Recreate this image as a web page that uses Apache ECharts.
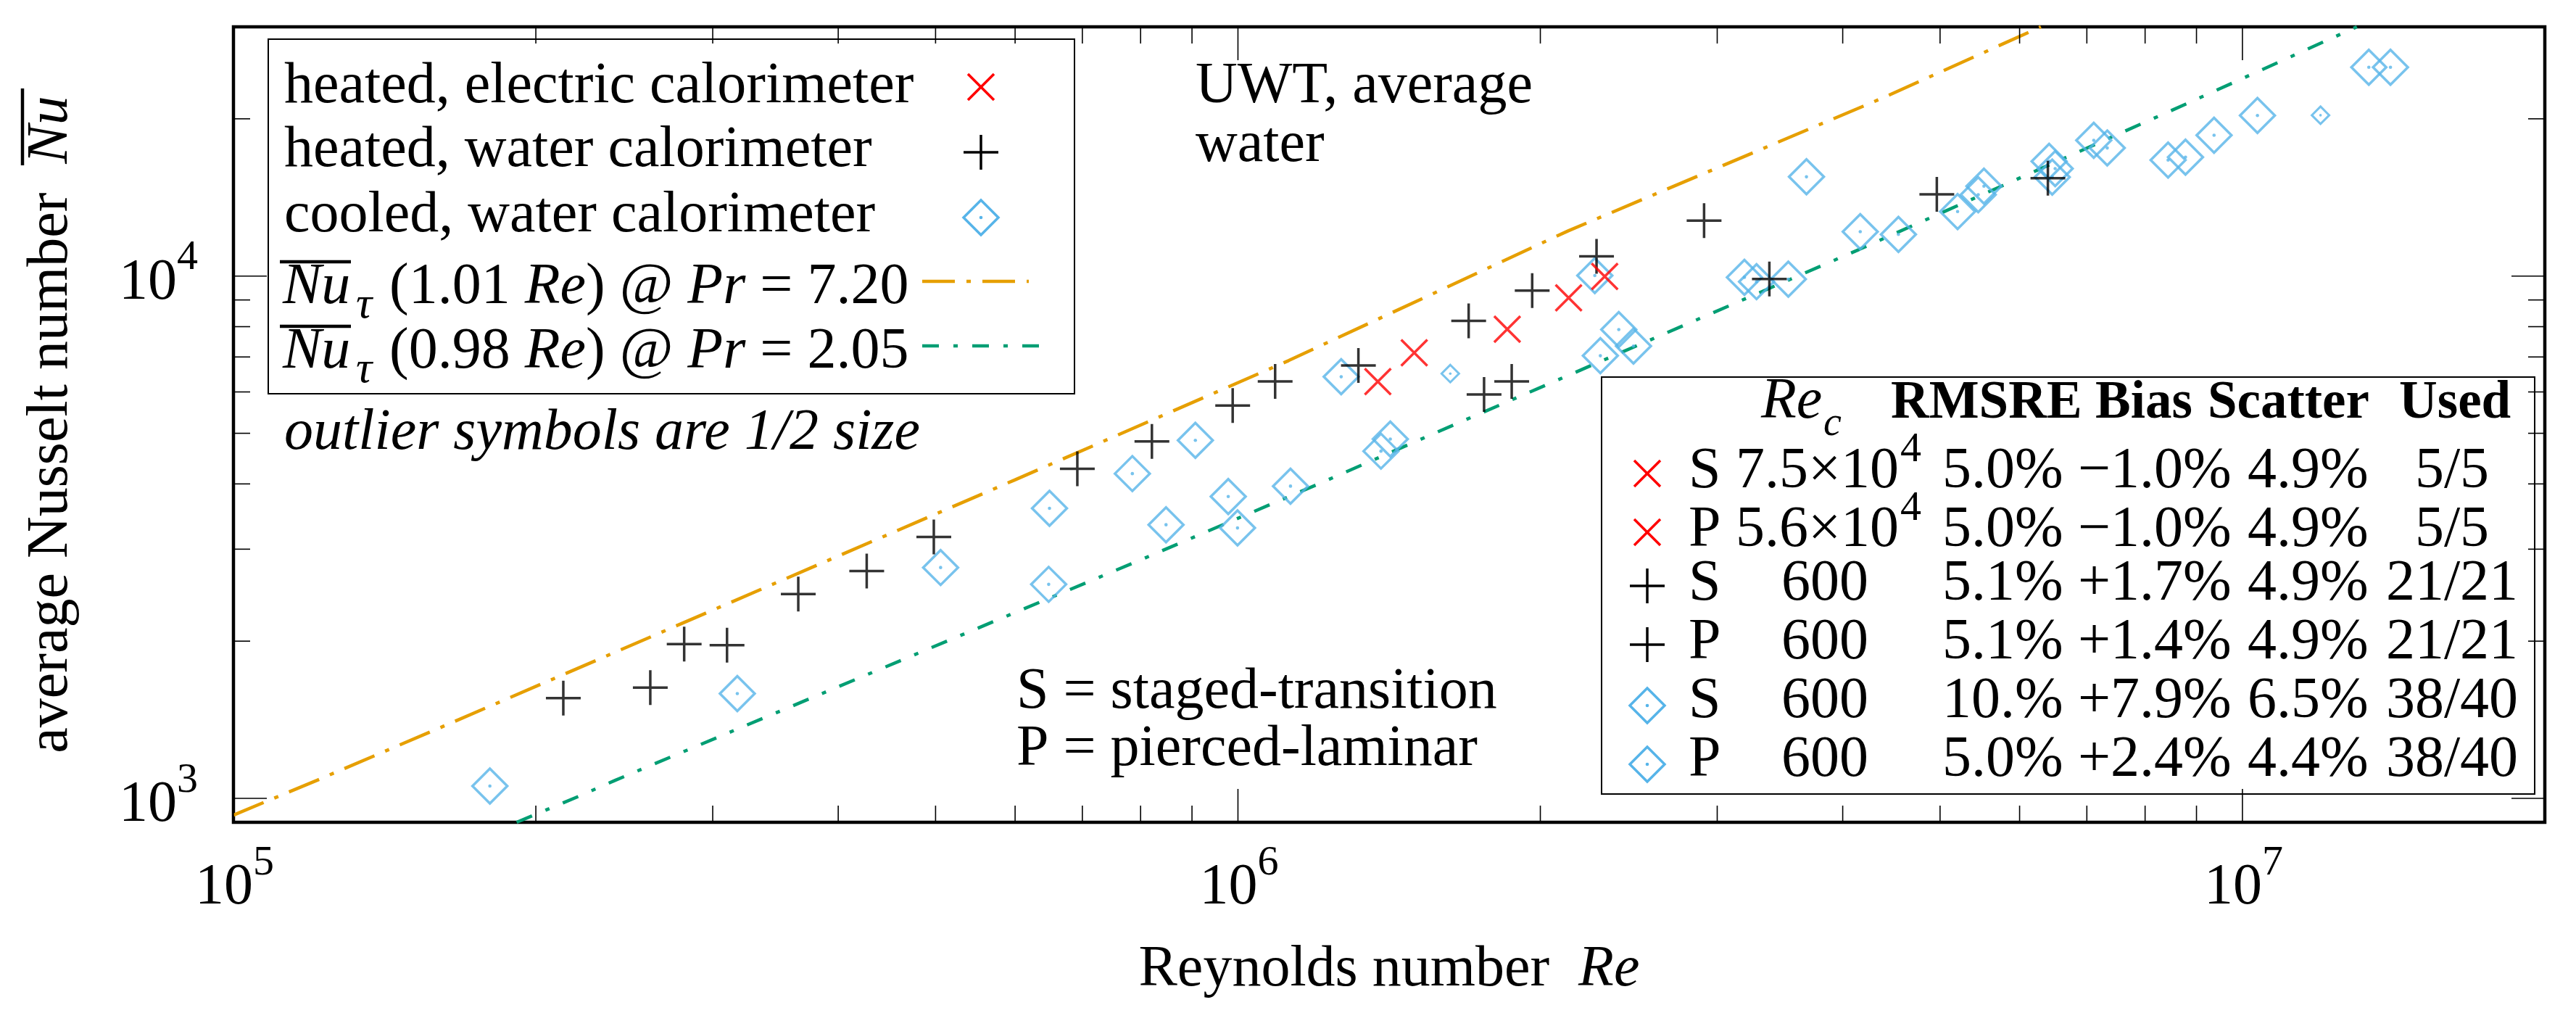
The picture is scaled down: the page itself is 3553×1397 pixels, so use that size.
<!DOCTYPE html>
<html><head><meta charset="utf-8">
<script src="https://cdn.jsdelivr.net/npm/echarts@6/dist/echarts.min.js"></script>
<style>html,body{margin:0;padding:0;background:#fff}#c{width:3553px;height:1397px}</style>
</head><body><div id="c"></div>
<script>
// ---------------- data ----------------
const heatedElectric = [[1.378e6,6280],[1.498e6,7129],[1.854e6,7910],[2.134e6,9087],[2.318e6,9984]];
const heatedWater = [[2.13e5,1556],[2.60e5,1630],[2.81e5,1975],[3.10e5,1965],[3.65e5,2461],[4.27e5,2724],[4.98e5,3166],
  [6.92e5,4277],[8.21e5,4824],[9.88e5,5651],[1.089e6,6287],[1.318e6,6745],[1.697e6,8204],[1.758e6,5934],[1.873e6,6283],
  [1.963e6,9382],[2.275e6,10910],[2.911e6,12766],[3.381e6,9873],[4.963e6,14333],[6.402e6,15388]];
const cooledWater = [[1.80e5,1056],[3.174e5,1587],[5.058e5,2767],[6.492e5,3592],[6.48e5,2569],[7.85e5,4186],[9.07e5,4848],
  [8.48e5,3341],[9.78e5,3784],[9.99e5,3294],[1.128e6,3961],[1.388e6,4622],[1.418e6,4874],[1.267e6,6415],[2.266e6,10022],
  [2.394e6,7897],[2.295e6,7038],[2.476e6,7344],[3.193e6,9945],[3.283e6,9757],[3.531e6,9863],[3.681e6,15488],[4.164e6,12160],
  [4.545e6,12013],[5.205e6,13286],[5.457e6,14316],[5.529e6,14859],[6.42e6,16582],[6.51e6,16058],[6.466e6,15472],
  [7.112e6,18190],[7.335e6,17585],[8.433e6,16672],[8.776e6,16886],[9.37e6,18600],[1.035e7,20300],[1.336e7,25100],[1.404e7,25100]];
const cooledOutliers = [[1.627e6,6505],[1.196e7,20320]];
const nuPr720 = [[1e5,929],[1.211e5,1083],[1.602e5,1363],[5.99e5,4068],[1.123e6,6888],[2.132e6,12205],[4.387e6,21940],[6.3e6,30000]];
const nuPr205 = [[1.914e5,900],[2.214e5,1012],[2.399e5,1083],[7.97e5,2853],[1.204e6,4003],[1.567e6,4995],[2.638e6,7704],
  [4.153e6,11242],[8.815e6,21410],[1.3e7,30000]];

const xMajorTicks = [1e5,1e6,1e7];
const xTickLabels = ['5','6','7'];          // exponents of 10
const xMinorTicks = [2e5,3e5,4e5,5e5,6e5,7e5,8e5,9e5,2e6,3e6,4e6,5e6,6e6,7e6,8e6,9e6];
const yMajorTicks = [1e3,1e4];
const yTickLabels = ['3','4'];
const yMinorTicks = [2e3,3e3,4e3,5e3,6e3,7e3,8e3,9e3,2e4];

const tableSym = ['x','x','+','+','d','d'];
const tableMode = ['S','P','S','P','S','P'];
const tableRec = ['7.5×10','5.6×10','600','600','600','600'];
const tableRecExp = ['4','4','','','',''];
const tableRMSRE = ['5.0%','5.0%','5.1%','5.1%','10.%','5.0%'];
const tableBias = ['−1.0%','−1.0%','+1.7%','+1.4%','+7.9%','+2.4%'];
const tableScatter = ['4.9%','4.9%','4.9%','4.9%','6.5%','4.4%'];
const tableUsed = ['5/5','5/5','21/21','21/21','38/40','38/40'];

// ---------------- styling ----------------
const FONT = '"Liberation Serif","Times New Roman",serif';
const RED = '#FF0000', BLUE = '#56B4E9', ORANGE = '#E69F00', GREEN = '#009E73';
const DASH_OR = [45,16,6,16], DASH_GR = [23,20,6,20];
const PLUS = 'path://M1,0L1,2M0,1L2,1';
const CROSS = 'path://M0,0L2,2M0,2L2,0';

function txt(x, base, text, o) {
  o = o || {};
  const fs = o.fs || 80;
  const st = {text: text, x: 0, y: 0, fontFamily: FONT, fontSize: fs, fontStyle: o.italic ? 'italic' : 'normal',
    fontWeight: o.bold ? 'bold' : 'normal', fill: '#000', align: o.align || 'left', verticalAlign: 'middle'};
  if (o.rich) st.rich = o.rich;
  return {type: 'text', x: x, y: base - 0.3375 * fs, z: 20, silent: true, style: st};
}
const richI = {i: {fontFamily: FONT, fontSize: 80, fontStyle: 'italic'}};
function line(x1, y1, x2, y2, color, lw, dash) {
  const s = {stroke: color, lineWidth: lw};
  if (dash) s.lineDash = dash;
  return {type: 'line', z: 20, silent: true, shape: {x1, y1, x2, y2}, style: s};
}
function symX(cx, cy) { const h = 18; return [line(cx-h,cy-h,cx+h,cy+h,RED,3.5), line(cx-h,cy+h,cx+h,cy-h,RED,3.5)]; }
function symPlus(cx, cy) { const h = 24; return [line(cx-h,cy,cx+h,cy,'#000',3.5), line(cx,cy-h,cx,cy+h,'#000',3.5)]; }
function symDiamond(cx, cy) {
  const h = 24;
  return [{type: 'polygon', z: 20, silent: true, shape: {points: [[cx,cy-h],[cx+h,cy],[cx,cy+h],[cx-h,cy]]},
           style: {fill: 'none', stroke: BLUE, lineWidth: 3.5}},
          {type: 'circle', z: 20, silent: true, shape: {cx, cy, r: 2.3}, style: {fill: BLUE}}];
}

const graphics = [];
// legend box
graphics.push({type: 'rect', z: 1, silent: true, shape: {x: 370, y: 54, width: 1112, height: 489},
  style: {fill: '#fff', stroke: '#000', lineWidth: 2}});
graphics.push(txt(392, 147, 'heated, electric calorimeter'));
graphics.push(txt(392, 235, 'heated, water calorimeter'));
graphics.push(txt(392, 325, 'cooled, water calorimeter'));
graphics.push(...symX(1353, 120), ...symPlus(1353, 210), ...symDiamond(1353, 300));
[[424, '(1.01 {i|Re}) @ {i|Pr} = 7.20', ORANGE, DASH_OR, 1419], [513, '(0.98 {i|Re}) @ {i|Pr} = 2.05', GREEN, DASH_GR, 1434]]
  .forEach(function (r) {
    const b = r[0];
    graphics.push(txt(390, b, 'Nu', {italic: true}));
    graphics.push(line(386, b - 63, 484, b - 63, '#000', 4.5));
    graphics.push(txt(491, b + 19, 'τ', {italic: true, fs: 62}));
    graphics.push(txt(537, b, r[1], {rich: richI}));
    graphics.push(line(1272, b - 36, r[4], b - 36, r[2], 4.5, r[3]));
  });
graphics.push(txt(392, 625, 'outlier symbols are 1/2 size', {italic: true}));
graphics.push(txt(1649, 147, 'UWT, average'));
graphics.push(txt(1649, 228, 'water'));
graphics.push(txt(1402, 982, 'S = staged-transition'));
graphics.push(txt(1402, 1061, 'P = pierced-laminar'));
// y-axis title overline
graphics.push(line(31, 122, 31, 228, '#000', 4.5));

// statistics table
graphics.push({type: 'rect', z: 1, silent: true, shape: {x: 2209, y: 520, width: 1287, height: 575},
  style: {fill: '#fff', stroke: '#000', lineWidth: 2}});
graphics.push(txt(2429, 582, 'Re', {italic: true}));
graphics.push(txt(2515, 604, 'c', {italic: true, fs: 56}));
graphics.push(txt(2608, 582, 'RMSRE', {bold: true, fs: 73}));
graphics.push(txt(2890, 582, 'Bias', {bold: true, fs: 73}));
graphics.push(txt(3045, 582, 'Scatter', {bold: true, fs: 73}));
graphics.push(txt(3309, 582, 'Used', {bold: true, fs: 73}));
const rowBase = [678, 759, 833, 914, 995, 1076];
rowBase.forEach(function (b, i) {
  if (tableSym[i] === 'x') graphics.push(...symX(2272, b - 25));
  else if (tableSym[i] === '+') graphics.push(...symPlus(2272, b - 25));
  else graphics.push(...symDiamond(2272, b - 22));
  graphics.push(txt(2329, b, tableMode[i]));
  if (tableRecExp[i]) {
    graphics.push(txt(2394, b, tableRec[i]));
    graphics.push(txt(2621, b - 38, tableRecExp[i], {fs: 58}));
  } else {
    graphics.push(txt(2457, b, tableRec[i]));
  }
  graphics.push(txt(2679, b, tableRMSRE[i]));
  graphics.push(txt(2866, b, tableBias[i]));
  graphics.push(txt(3100, b, tableScatter[i]));
  graphics.push(txt(3382, b, tableUsed[i], {align: 'center'}));
});

// ---------------- ticks (drawn through the axes' scales) ----------------
const tickData = [];
xMajorTicks.forEach(v => tickData.push([v, 1000, 0]));
xMinorTicks.forEach(v => tickData.push([v, 1000, 1]));
yMajorTicks.forEach(v => tickData.push([2e5, v, 2]));
yMinorTicks.forEach(v => tickData.push([2e5, v, 3]));

const option = {
  animation: false,
  backgroundColor: '#fff',
  grid: {left: 322, right: 43, top: 37, bottom: 263, show: true, borderColor: '#000', borderWidth: 4.5,
         backgroundColor: 'transparent', containLabel: false, outerBoundsMode: 'none'},
  xAxis: {
    type: 'log', logBase: 10, min: 1e5, max: 2e7,
    axisLine: {show: false}, axisTick: {show: false}, splitLine: {show: false}, minorTick: {show: false},
    axisLabel: {show: false},
    name: 'Reynolds number  {i|Re}', nameLocation: 'middle', nameGap: 164,
    nameTextStyle: {fontFamily: FONT, fontSize: 80, color: '#000', rich: richI}
  },
  yAxis: {
    type: 'log', logBase: 10, min: 900, max: 30000,
    axisLine: {show: false}, axisTick: {show: false}, splitLine: {show: false}, minorTick: {show: false},
    axisLabel: {show: false},
    name: 'average Nusselt number  {i|Nu}', nameLocation: 'middle', nameRotate: 90, nameGap: 211,
    nameTextStyle: {fontFamily: FONT, fontSize: 80, color: '#000', rich: richI}
  },
  graphic: graphics,
  series: [
    {type: 'line', name: 'Nu Pr 7.20', data: nuPr720, showSymbol: false, symbol: 'none', z: 3, silent: true,
     lineStyle: {color: ORANGE, width: 4.5, type: DASH_OR}},
    {type: 'line', name: 'Nu Pr 2.05', data: nuPr205, showSymbol: false, symbol: 'none', z: 3, silent: true,
     lineStyle: {color: GREEN, width: 4.5, type: DASH_GR}},
    {type: 'scatter', name: 'cooled, water calorimeter', data: cooledWater, symbol: 'diamond', symbolSize: 48, z: 4,
     itemStyle: {color: 'rgba(0,0,0,0)', borderColor: BLUE, borderWidth: 3.5}},
    {type: 'scatter', name: 'cooled dots', data: cooledWater, symbol: 'circle', symbolSize: 4.6, z: 4,
     itemStyle: {color: BLUE}},
    {type: 'scatter', name: 'cooled outliers', data: cooledOutliers, symbol: 'diamond', symbolSize: 24, z: 4,
     itemStyle: {color: 'rgba(0,0,0,0)', borderColor: BLUE, borderWidth: 3}},
    {type: 'scatter', name: 'cooled outlier dots', data: cooledOutliers, symbol: 'circle', symbolSize: 3.6, z: 4,
     itemStyle: {color: BLUE}},
    {type: 'scatter', name: 'heated, water calorimeter', data: heatedWater, symbol: PLUS, symbolSize: 48, z: 5,
     itemStyle: {color: 'rgba(0,0,0,0)', borderColor: '#000', borderWidth: 3.5}},
    {type: 'scatter', name: 'heated, electric calorimeter', data: heatedElectric, symbol: CROSS, symbolSize: 36, z: 6,
     itemStyle: {color: 'rgba(0,0,0,0)', borderColor: RED, borderWidth: 3.5}},
    {type: 'custom', name: 'ticks', data: tickData, silent: true, z: 30, clip: false,
     renderItem: function (params, api) {
       const cs = params.coordSys;
       const t = api.value(2);
       const p = api.coord([api.value(0), api.value(1)]);
       const L = (t === 0 || t === 2) ? 46 : 23;
       const st = {stroke: '#000', lineWidth: 1.6};
       if (t < 2) {
         const yb = cs.y + cs.height, yt = cs.y;
         return {type: 'group', children: [
           {type: 'line', shape: {x1: p[0], y1: yb, x2: p[0], y2: yb - L}, style: st},
           {type: 'line', shape: {x1: p[0], y1: yt, x2: p[0], y2: yt + L}, style: st}]};
       }
       const xl = cs.x, xr = cs.x + cs.width;
       return {type: 'group', children: [
         {type: 'line', shape: {x1: xl, y1: p[1], x2: xl + L, y2: p[1]}, style: st},
         {type: 'line', shape: {x1: xr, y1: p[1], x2: xr - L, y2: p[1]}, style: st}]};
     }}
  ]
};

const chart = echarts.init(document.getElementById('c'), null, {renderer: 'canvas'});
chart.setOption(option);

// tick labels 10^n placed through the axes' scales
const gridBottom = 1397 - option.grid.bottom;
xMajorTicks.forEach(function (v, k) {
  const px = chart.convertToPixel({xAxisIndex: 0}, v);
  graphics.push(txt(px + 27, gridBottom + 118, '10', {align: 'right'}));
  graphics.push(txt(px + 27, gridBottom + 76, xTickLabels[k], {fs: 58}));
});
yMajorTicks.forEach(function (v, k) {
  const py = chart.convertToPixel({yAxisIndex: 0}, v);
  graphics.push(txt(244, py + 37, '10', {align: 'right'}));
  graphics.push(txt(244, py - 5, yTickLabels[k], {fs: 58}));
});
chart.setOption({graphic: graphics});
</script></body></html>
